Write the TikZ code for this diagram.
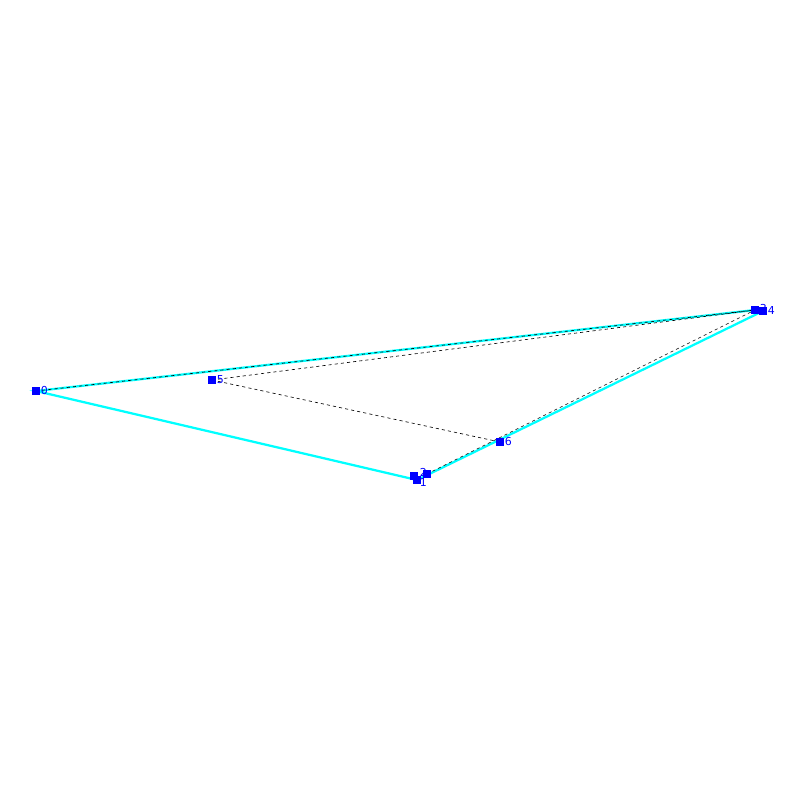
\documentclass[tikz,border=0pt]{standalone}
\usepackage{fontspec}
\setmainfont{DejaVu Sans}
\usepackage{tikz}
\usetikzlibrary{positioning, calc}
\definecolor{hullcyan}{RGB}{0,255,255}
\tikzstyle{vtx} = [draw=none, fill=blue, minimum size=5pt, inner sep=0pt]
\tikzstyle{num} = [right, text=blue, font=\fontsize{7.8}{7.8}\selectfont, inner sep=0.5pt]
\tikzstyle{hull} = [hullcyan, line width=1.6pt]
\tikzstyle{edge} = [black, line width=0.45pt, dash pattern=on 2.2pt off 2.2pt]

\begin{document}
\begin{tikzpicture}[x=0.025cm, y=-0.025cm]
    \useasboundingbox (0,0) rectangle (800,800);
    % points
    \coordinate (p0) at (36,391);
    \coordinate (p1) at (417,480);
    \coordinate (p2) at (414,476);
    \coordinate (p7) at (427,474);
    \coordinate (p3) at (755,310);
    \coordinate (p4) at (763,311);
    \coordinate (p5) at (212,380);
    \coordinate (p6) at (500,442);
    % outline
    \draw[hull] (p0) -- (p1) -- (p4) -- (p3) -- cycle;
    % inner edges
    \draw[edge] (p0) -- (p3);
    \draw[edge] (p5) -- (p3);
    \draw[edge] (p5) -- (p6);
    \draw[edge] (p7) -- (p3);
    % markers
    \node[vtx] (m0) at (p0) {};
    \node[vtx] (m2) at (p2) {};
    \node[vtx] (m1) at (p1) {};
    \node[vtx] (m7) at (p7) {};
    \node[vtx] (m3) at (p3) {};
    \node[vtx] (m4) at (p4) {};
    \node[vtx] (m5) at (p5) {};
    \node[vtx] (m6) at (p6) {};
    \node[num] at ($(p0)+(4,0)$) {0};
    \node[num] at ($(p1)+(2,2)$) {1};
    \node[num] at ($(p2)+(5,-4)$) {2};
    \node[num] at ($(p3)+(4,-1)$) {3};
    \node[num] at ($(p4)+(4,0)$) {4};
    \node[num] at ($(p5)+(4,0)$) {5};
    \node[num] at ($(p6)+(4,0)$) {6};
\end{tikzpicture}
\end{document}
